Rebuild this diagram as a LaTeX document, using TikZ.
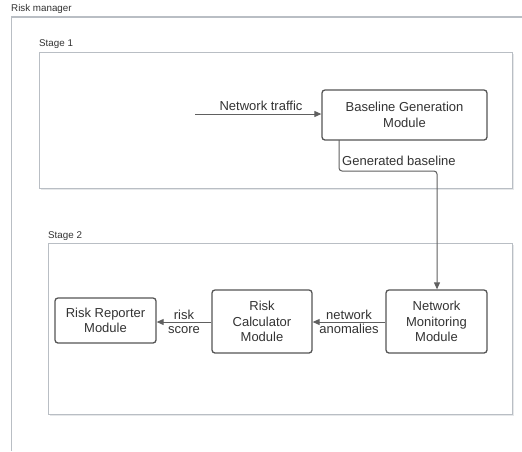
\documentclass[tikz,border=0pt]{standalone}
\usepackage{fontspec}
\setmainfont{Liberation Sans}
\usetikzlibrary{arrows.meta}
\definecolor{framegray}{HTML}{B9BEC4}
\definecolor{shadowgray}{HTML}{E6E8EA}
\definecolor{nodeborder}{HTML}{555555}
\definecolor{arrowgray}{HTML}{606060}
\definecolor{textgray}{HTML}{333333}
\begin{document}
\begin{tikzpicture}[x=1pt,y=-1pt,
  modbox/.style={draw=nodeborder,line width=1.3pt,rounded corners=3pt,align=center,
    font=\fontsize{13}{15.5}\selectfont,text=textgray,inner sep=2pt},
  conn/.style={draw=arrowgray,line width=1pt,-{Triangle[length=7pt,width=6pt]}},
  elabel/.style={font=\fontsize{13}{14.5}\selectfont,text=textgray,inner sep=1pt,align=center},
  framelbl/.style={font=\fontsize{9.8}{11}\selectfont,text=textgray,anchor=west,inner sep=0pt},
  stageframe/.style={draw=framegray,line width=1pt}]
\useasboundingbox (0,0) rectangle (522,451);
\fill[white] (0,0) rectangle (522,451);
% outer container
\draw[framegray,line width=1.2pt] (11.5,451) -- (11.5,17) -- (522,17);
\node[framelbl] (rm) at (11,9) {Risk manager};
% stage 1
\fill[shadowgray] (41,54) rectangle (514,190);
\draw[stageframe,fill=white] (39,52) rectangle (512,188);
\node[framelbl] (s1) at (39,44) {Stage 1};
% stage 2
\fill[shadowgray] (50,245) rectangle (514,416);
\draw[stageframe,fill=white] (48,243) rectangle (512,414);
\node[framelbl] (s2) at (48,236) {Stage 2};
% modules
\node[modbox,minimum width=165pt,minimum height=50pt] (bg) at (404.5,115) {Baseline Generation\\Module};
\node[modbox,minimum width=101pt,minimum height=63pt] (nm) at (436.5,321.5) {Network\\Monitoring\\Module};
\node[modbox,minimum width=100pt,minimum height=63pt] (rc) at (262,321.5) {Risk\\Calculator\\Module};
\node[modbox,minimum width=101pt,minimum height=45pt] (rr) at (105.5,320.5) {Risk Reporter\\Module};
% connectors
\coordinate (src) at (195,114);
\draw[conn] (src) -- (src -| bg.west);
\node[elabel] (ntl) at (261,106) {Network traffic};
\coordinate (gb1) at (339,140);
\coordinate (gb2) at (339,171);
\coordinate (gb3) at (437,171);
\draw[conn,rounded corners=3pt] (gb1) -- (gb2) -- (gb3) -- (gb3 |- nm.north);
\node[elabel,anchor=west] (gbl) at (341,161) {Generated baseline};
\draw[conn] (nm.west |- 0,322) -- (rc.east |- 0,322);
\node[elabel] (nal) at (349,322) {network\\anomalies};
\draw[conn] (rc.west |- 0,322) -- (rr.east |- 0,322);
\node[elabel] (rsl) at (184,322) {risk\\score};
\end{tikzpicture}
\end{document}
